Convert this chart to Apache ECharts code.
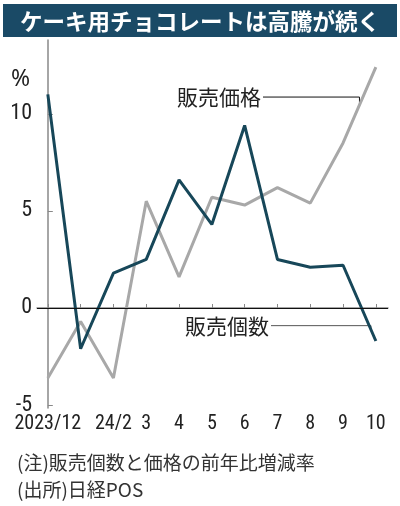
<!DOCTYPE html>
<html><head><meta charset="utf-8">
<script src="https://cdn.jsdelivr.net/npm/echarts@6/dist/echarts.min.js"></script>
<style>html,body{margin:0;padding:0;background:#fff}#c{width:400px;height:506px}</style>
</head><body><div id="c"></div>
<script>
const categories = ['2023/12', '2024/1', '24/2', '3', '4', '5', '6', '7', '8', '9', '10'];
const tickLabels = ['2023/12', '', '24/2', '3', '4', '5', '6', '7', '8', '9', '10'];
const unitsSold = [11.0, -2.1, 1.8, 2.5, 6.6, 4.3, 9.4, 2.5, 2.1, 2.2, -1.7];
const salesPrice = [-3.6, -0.7, -3.6, 5.5, 1.6, 5.7, 5.3, 6.2, 5.4, 8.5, 12.4];
const yTicks = [-5, 0, 5, 10];

const chart = echarts.init(document.getElementById('c'), null, {renderer: 'canvas'});
const cjk = '"Noto Sans CJK JP", "Noto Sans", sans-serif';
const num = '"Liberation Sans Narrow", "Roboto Condensed", "DejaVu Sans Condensed", sans-serif';
const xIdx = categories.map((c, i) => i);

chart.setOption({
  animation: false,
  backgroundColor: '#fff',
  grid: {left: 37, right: 12, top: 40, bottom: 98, containLabel: false},
  xAxis: {
    type: 'value', min: -0.33, max: 10.37,
    axisLine: {show: true, lineStyle: {color: '#888', width: 1.5}},
    axisTick: {show: true, inside: true, length: 4, lineStyle: {color: '#888'}, customValues: xIdx},
    axisLabel: {customValues: xIdx, formatter: v => tickLabels[Math.round(v)], color: '#222', fontSize: 20, fontFamily: num, margin: 6},
    splitLine: {show: false}
  },
  yAxis: {
    type: 'value', min: -5.15, max: 13.8,
    axisLine: {show: true, lineStyle: {color: '#888', width: 1.5}},
    axisTick: {show: true, inside: true, length: 5, lineStyle: {color: '#888'}, customValues: yTicks},
    axisLabel: {customValues: yTicks, color: '#222', fontSize: 22, fontFamily: num, margin: 5},
    splitLine: {show: false}
  },
  series: [
    {
      name: '販売価格', type: 'line', symbol: 'none',
      data: salesPrice.map((v, i) => [i, v]),
      lineStyle: {color: '#a8a8a8', width: 3}, z: 2,
      markLine: {silent: true, symbol: 'none', label: {show: false},
        lineStyle: {color: '#111', width: 1, type: 'solid'}, data: [{yAxis: 0}]}
    },
    {
      name: '販売個数', type: 'line', symbol: 'none',
      data: unitsSold.map((v, i) => [i, v]),
      lineStyle: {color: '#174759', width: 3}, z: 3
    }
  ]
});

function px(x, y) { return chart.convertToPixel({gridIndex: 0}, [x, y]); }
function onSeg(arr, t) { const i = Math.floor(t); return arr[i] + (arr[i + 1] - arr[i]) * (t - i); }

const pEnd = px(9.5, onSeg(salesPrice, 9.5));
const qEnd = px(9.85, onSeg(unitsSold, 9.85));
const pY = pEnd[1] - 8, qY = qEnd[1] - 4;

function txt(x, y, text, size, family, color, extra) {
  return {type: 'text', x: x, y: y, style: Object.assign({text: text, fill: color, fontSize: size, fontFamily: family, textVerticalAlign: 'middle'}, extra || {})};
}

chart.setOption({
  graphic: [
    {type: 'rect', shape: {x: 3, y: 4, width: 394, height: 33}, style: {fill: '#1a4a66'}},
    txt(200, 21, 'ケーキ用チョコレートは高騰が続く', 22.5, cjk, '#fff', {textAlign: 'center', fontWeight: 'bold'}),
    txt(11, 79, '%', 23, '"Noto Sans", sans-serif', '#222'),
    txt(177, pY, '販売価格', 21, cjk, '#222'),
    {type: 'polyline', shape: {points: [[263, pY], [pEnd[0], pY], [pEnd[0], pEnd[1]]]}, style: {stroke: '#111', lineWidth: 1, fill: null}},
    txt(185, qY, '販売個数', 21, cjk, '#222'),
    {type: 'polyline', shape: {points: [[271, qY], [qEnd[0], qY], [qEnd[0], qEnd[1]]]}, style: {stroke: '#555', lineWidth: 1, fill: null}},
    txt(17, 463, '(注)販売個数と価格の前年比増減率', 19, cjk, '#333'),
    txt(17, 490, '(出所)日経POS', 19, cjk, '#333')
  ]
});
</script></body></html>
